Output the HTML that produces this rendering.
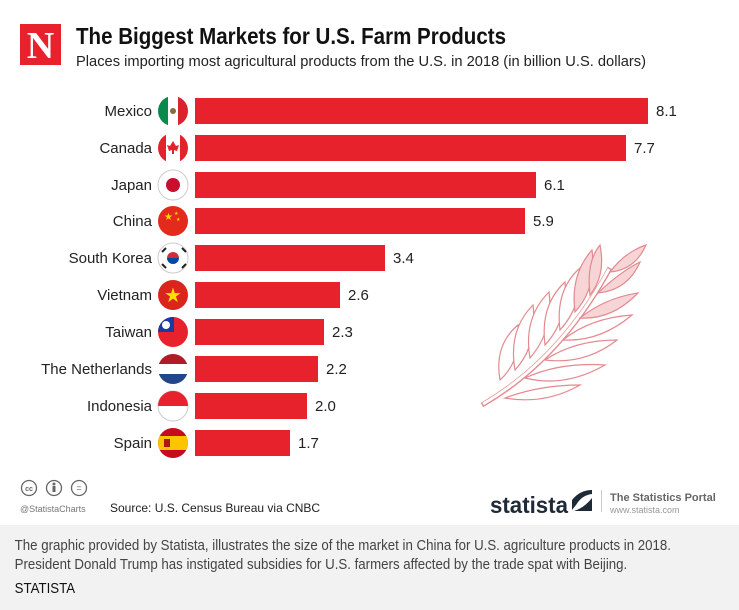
<!DOCTYPE html>
<html><head><meta charset="utf-8"><style>
body{margin:0;width:739px;height:610px;overflow:hidden;background:#fff;font-family:"Liberation Sans",sans-serif}
.cap{position:absolute;left:0;top:525px;width:739px;height:85px;background:#f2f2f2;font-family:"Liberation Sans",sans-serif;color:#444;font-size:14.5px;line-height:19px}
.cap .in{padding:12px 0 0 16px;transform:scaleX(0.915);transform-origin:0 0;white-space:nowrap}
</style></head><body>
<svg width="739" height="525" style="position:absolute;left:0;top:0" font-family="Liberation Sans, sans-serif">
<defs>
<clipPath id="c"><circle r="15"/></clipPath>
</defs>
<rect x="20" y="24" width="41" height="41" fill="#e8222d"/>
<text x="40.5" y="58" text-anchor="middle" font-family="Liberation Serif,serif" font-weight="bold" font-size="38" fill="#fff">N</text>
<text x="76" y="44" font-weight="bold" font-size="23" fill="#111" textLength="430" lengthAdjust="spacingAndGlyphs">The Biggest Markets for U.S. Farm Products</text>
<text x="76" y="66" font-size="15" fill="#222" textLength="570" lengthAdjust="spacingAndGlyphs">Places importing most agricultural products from the U.S. in 2018 (in billion U.S. dollars)</text>
<g font-size="15" fill="#222">
<g transform="translate(0,111)"><text x="152" y="5" text-anchor="end">Mexico</text><rect x="195" y="-13" width="453" height="26" fill="#e8222d"/><text x="656" y="5">8.1</text></g>
<g transform="translate(0,148)"><text x="152" y="5" text-anchor="end">Canada</text><rect x="195" y="-13" width="431" height="26" fill="#e8222d"/><text x="634" y="5">7.7</text></g>
<g transform="translate(0,185)"><text x="152" y="5" text-anchor="end">Japan</text><rect x="195" y="-13" width="341" height="26" fill="#e8222d"/><text x="544" y="5">6.1</text></g>
<g transform="translate(0,221)"><text x="152" y="5" text-anchor="end">China</text><rect x="195" y="-13" width="330" height="26" fill="#e8222d"/><text x="533" y="5">5.9</text></g>
<g transform="translate(0,258)"><text x="152" y="5" text-anchor="end">South Korea</text><rect x="195" y="-13" width="190" height="26" fill="#e8222d"/><text x="393" y="5">3.4</text></g>
<g transform="translate(0,295)"><text x="152" y="5" text-anchor="end">Vietnam</text><rect x="195" y="-13" width="145" height="26" fill="#e8222d"/><text x="348" y="5">2.6</text></g>
<g transform="translate(0,332)"><text x="152" y="5" text-anchor="end">Taiwan</text><rect x="195" y="-13" width="129" height="26" fill="#e8222d"/><text x="332" y="5">2.3</text></g>
<g transform="translate(0,369)"><text x="152" y="5" text-anchor="end">The Netherlands</text><rect x="195" y="-13" width="123" height="26" fill="#e8222d"/><text x="326" y="5">2.2</text></g>
<g transform="translate(0,406)"><text x="152" y="5" text-anchor="end">Indonesia</text><rect x="195" y="-13" width="112" height="26" fill="#e8222d"/><text x="315" y="5">2.0</text></g>
<g transform="translate(0,443)"><text x="152" y="5" text-anchor="end">Spain</text><rect x="195" y="-13" width="95" height="26" fill="#e8222d"/><text x="298" y="5">1.7</text></g>
</g>
<!-- flags -->
<g transform="translate(173,111)" clip-path="url(#c)"><rect x="-15" y="-15" width="10" height="30" fill="#0a8a4a"/><rect x="-5" y="-15" width="10" height="30" fill="#fff"/><rect x="5" y="-15" width="10" height="30" fill="#d9232e"/><circle r="3" fill="#8a6a3a"/></g>
<g transform="translate(173,148)" clip-path="url(#c)"><rect x="-15" y="-15" width="30" height="30" fill="#fff"/><rect x="-15" y="-15" width="8" height="30" fill="#e3232c"/><rect x="7" y="-15" width="8" height="30" fill="#e3232c"/><path d="M0-7 L3-2 L6-3 L4 3 L1 2 L1 6 L-1 6 L-1 2 L-4 3 L-6-3 L-3-2Z" fill="#e3232c"/></g>
<g transform="translate(173,185)"><circle r="15" fill="#fff" stroke="#ccc"/><circle r="7" fill="#c8102e"/></g>
<g transform="translate(173,221)"><circle r="15" fill="#e32a1c"/><text x="-9" y="-1" font-size="10" fill="#ffd600">★</text><text x="1" y="-6" font-size="5" fill="#ffd600">★</text><text x="3" y="0" font-size="5" fill="#ffd600">★</text></g>
<g transform="translate(173,258)"><circle r="15" fill="#fff" stroke="#ccc"/><path d="M-6 0 A6 6 0 0 1 6 0 Z" fill="#cd2e3a"/><path d="M-6 0 A6 6 0 0 0 6 0 Z" fill="#0047a0"/><g stroke="#222" stroke-width="2"><path d="M-11-6 l4-4 M9-10 l4 4 M-11 6 l4 4 M9 10 l4-4"/></g></g>
<g transform="translate(173,295)"><circle r="15" fill="#da251d"/><text x="0" y="7" text-anchor="middle" font-size="20" fill="#ffde00">★</text></g>
<g transform="translate(173,332)" clip-path="url(#c)"><rect x="-15" y="-15" width="30" height="30" fill="#e8222d"/><rect x="-15" y="-15" width="16" height="15" fill="#1a3aa0"/><circle cx="-7" cy="-7" r="4" fill="#fff"/></g>
<g transform="translate(173,369)" clip-path="url(#c)"><rect x="-15" y="-15" width="30" height="10" fill="#ae1c28"/><rect x="-15" y="-5" width="30" height="10" fill="#fff"/><rect x="-15" y="5" width="30" height="10" fill="#21468b"/></g>
<g transform="translate(173,406)"><circle r="15" fill="#fff" stroke="#ccc"/><path d="M-15 0 A15 15 0 0 1 15 0Z" fill="#e8222d"/></g>
<g transform="translate(173,443)" clip-path="url(#c)"><rect x="-15" y="-15" width="30" height="30" fill="#c60b1e"/><rect x="-15" y="-7" width="30" height="14" fill="#ffc400"/><rect x="-9" y="-4" width="6" height="8" fill="#ad1519"/></g>
<!-- wheat -->
<g fill="none" stroke="#e38a8f" stroke-width="1.2">
<path d="M482 405 Q560 360 610 268" stroke-width="5" stroke="#e38a8f"/>
<path d="M483 404 Q560 359 609 269" stroke-width="3" stroke="#fff"/>
<g fill="#fff">
<path d="M500 380 Q494 345 518 325 Q522 360 500 380Z"/>
<path d="M515 370 Q508 330 533 305 Q538 345 515 370Z"/>
<path d="M530 358 Q523 318 549 292 Q554 330 530 358Z"/>
<path d="M545 345 Q540 305 565 282 Q568 320 545 345Z"/>
<path d="M560 330 Q555 290 580 268 Q583 305 560 330Z"/>
<path d="M575 312 Q570 275 592 250 Q597 288 575 312Z" fill="#f7d5d7"/>
<path d="M590 295 Q586 262 600 245 Q606 275 590 295Z" fill="#f7d5d7"/>
<path d="M505 398 Q540 385 580 385 Q545 405 505 398Z"/>
<path d="M525 378 Q560 362 605 365 Q565 388 525 378Z"/>
<path d="M545 360 Q575 340 617 340 Q585 365 545 360Z"/>
<path d="M563 340 Q590 318 632 315 Q600 342 563 340Z"/>
<path d="M580 318 Q605 298 638 293 Q612 320 580 318Z" fill="#f7d5d7"/>
<path d="M598 293 Q620 272 640 262 Q628 290 598 293Z" fill="#f7d5d7"/>
<path d="M610 272 Q625 252 646 245 Q635 270 610 272Z" fill="#f7d5d7"/>
</g></g>
<!-- footer -->
<g fill="none" stroke="#666" stroke-width="1.3"><circle cx="29" cy="488" r="7.5"/><circle cx="54" cy="488" r="7.5"/><circle cx="79" cy="488" r="7.5"/></g>
<text x="29" y="491" text-anchor="middle" font-size="7" fill="#666" font-weight="bold">cc</text>
<text x="79" y="491" text-anchor="middle" font-size="9" fill="#666">=</text>
<circle cx="54" cy="484" r="1.5" fill="#666"/><rect x="52.5" y="486" width="3" height="6" fill="#666"/>
<text x="20" y="512" font-size="9" fill="#777">@StatistaCharts</text>
<text x="110" y="512" font-size="12" fill="#222">Source: U.S. Census Bureau via CNBC</text>
<text x="490" y="513" font-size="23" font-weight="bold" fill="#1f2a38" textLength="78" lengthAdjust="spacingAndGlyphs">statista</text>
<path d="M572 510 L572 500 Q580 490 592 490 L592 494 Q582 495 576 505 Z M574 511 Q584 508 592 498 L592 511Z" fill="#1f2a38"/>
<rect x="601" y="490" width="1" height="22" fill="#ccc"/>
<text x="610" y="501" font-size="11" font-weight="bold" fill="#666">The Statistics Portal</text>
<text x="610" y="513" font-size="9" fill="#999">www.statista.com</text>
</svg>
<div class="cap"><div class="in">The graphic provided by Statista, illustrates the size of the market in China for U.S. agriculture products in 2018.<br>President Donald Trump has instigated subsidies for U.S. farmers affected by the trade spat with Beijing.<div style="color:#111;margin-top:5px">STATISTA</div></div></div>
</body></html>
